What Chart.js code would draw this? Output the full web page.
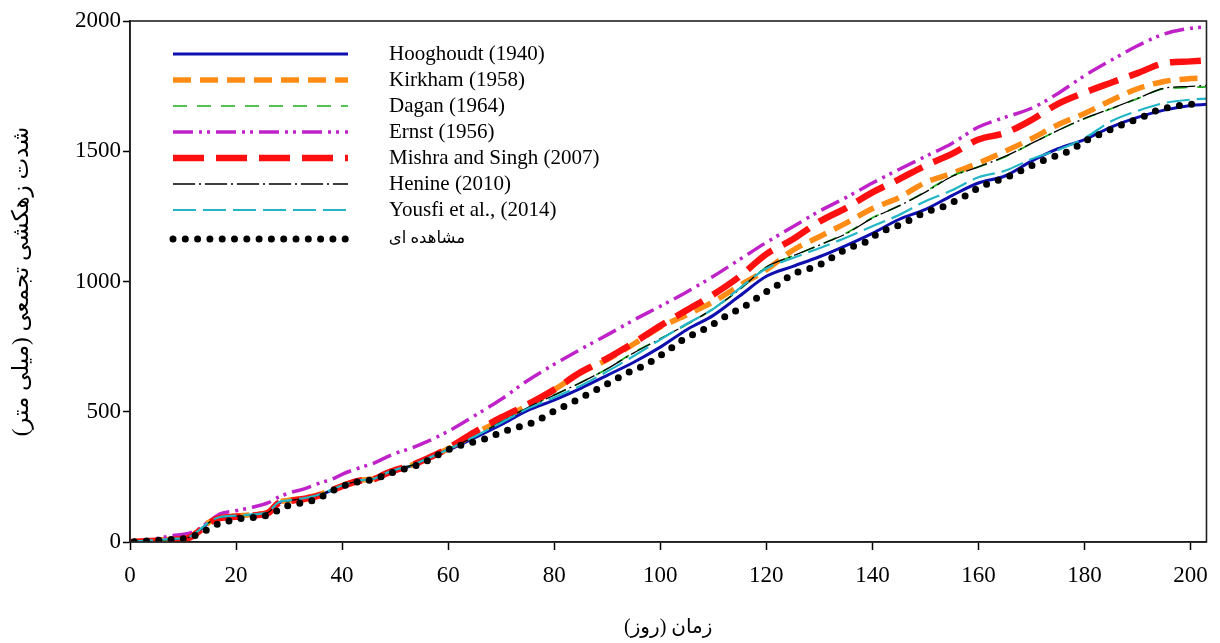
<!DOCTYPE html>
<html>
<head>
<meta charset="utf-8">
<script src="https://cdn.jsdelivr.net/npm/chart.js@4.4.1/dist/chart.umd.min.js"></script>
<style>
  html, body { margin: 0; padding: 0; background: #fff; }
  #canvas-container { width: 1220px; height: 643px; }
</style>
</head>
<body>
<div id="canvas-container"><canvas id="mycanvas" width="1220" height="643"></canvas></div>
<script>
// cumulative drainage (mm) vs time (days)
const seriesNames = [
  "Hooghoudt (1940)",
  "Kirkham (1958)",
  "Dagan (1964)",
  "Ernst (1956)",
  "Mishra and Singh (2007)",
  "Henine (2010)",
  "Yousfi et al., (2014)",
  "مشاهده ای"
];

const modelDays = [0, 4, 8, 11, 13, 15, 17, 20, 23, 26, 28, 30, 33, 36, 38, 40, 43, 46, 48, 50, 53, 56, 60,
  65, 70, 75, 80, 85, 90, 95, 100, 105, 110, 115, 120, 125, 130, 135, 140, 145, 150, 155, 160,
  165, 170, 175, 180, 185, 190, 195, 200, 203];

const hooghoudt = [0, 5, 10, 16, 42, 75, 93, 98, 103, 112, 150, 158, 167, 182, 198, 214, 234, 241, 260, 275, 292, 318, 352,
  400, 450, 505, 545, 590, 640, 690, 748, 815, 870, 945, 1020, 1058, 1095, 1138, 1185, 1238, 1277, 1330, 1378,
  1405, 1462, 1510, 1545, 1593, 1630, 1658, 1676, 1680];
const kirkham = [0, 5, 11, 17, 44, 77, 95, 100, 105, 114, 152, 160, 169, 184, 200, 216, 236, 243, 262, 277, 294, 320, 358,
  415, 470, 525, 585, 650, 700, 760, 825, 872, 922, 985, 1045, 1120, 1172, 1224, 1280, 1322, 1380, 1415, 1455,
  1500, 1548, 1602, 1645, 1695, 1740, 1768, 1779, 1781];
const dagan = [0, 5, 10, 17, 43, 76, 94, 99, 104, 113, 151, 159, 168, 183, 199, 215, 235, 242, 261, 276, 293, 319, 358,
  405, 462, 517, 565, 612, 665, 728, 780, 835, 895, 970, 1055, 1098, 1140, 1185, 1245, 1290, 1345, 1405, 1440,
  1478, 1530, 1580, 1625, 1663, 1702, 1740, 1745, 1747];
const ernst = [0, 10, 24, 33, 50, 80, 108, 120, 133, 150, 172, 188, 205, 228, 240, 260, 283, 303, 322, 340, 360, 385, 425,
  485, 548, 620, 682, 740, 795, 852, 905, 960, 1020, 1085, 1150, 1210, 1270, 1322, 1378, 1430, 1480, 1530, 1593,
  1630, 1665, 1722, 1790, 1849, 1905, 1950, 1972, 1977];
const mishra = [0, 4, 9, 15, 41, 74, 92, 97, 102, 111, 149, 157, 166, 181, 198, 214, 234, 241, 260, 276, 294, 320, 360,
  422, 478, 528, 585, 652, 705, 765, 830, 890, 950, 1020, 1105, 1162, 1230, 1282, 1342, 1392, 1445, 1490, 1545,
  1570, 1620, 1682, 1725, 1763, 1800, 1838, 1845, 1849];
const henine = [0, 5, 10, 17, 43, 76, 94, 99, 104, 113, 151, 159, 168, 183, 199, 215, 235, 242, 261, 276, 293, 319, 357,
  404, 461, 516, 564, 612, 665, 726, 780, 836, 896, 970, 1055, 1098, 1140, 1183, 1243, 1290, 1343, 1403, 1440,
  1480, 1530, 1580, 1626, 1664, 1703, 1742, 1749, 1753];
const yousfi = [0, 6, 12, 18, 45, 78, 96, 101, 106, 115, 152, 160, 169, 184, 201, 217, 236, 243, 262, 277, 294, 320, 355,
  405, 458, 512, 555, 600, 655, 714, 777, 838, 895, 975, 1050, 1090, 1128, 1168, 1212, 1255, 1308, 1350, 1400,
  1425, 1470, 1505, 1550, 1615, 1655, 1685, 1698, 1702];

const obsDays = [0.8, 3.0, 5.2, 7.3, 9.5, 11.6, 13.8, 16.0, 18.1, 20.3, 22.4, 24.6, 26.8, 28.8, 31.0, 33.2, 35.4, 37.5,
  39.6, 41.8, 44.0, 46.2, 48.3, 50.5, 52.7, 54.8, 57.0, 59.1, 61.3, 63.5, 65.6, 67.7, 69.9, 72.0, 74.1, 76.3,
  78.5, 80.6, 82.8, 84.9, 87.1, 89.2, 91.4, 93.5, 95.7, 97.8, 100.0, 102.2, 104.3, 106.5, 108.7, 110.8, 112.9,
  115.1, 117.3, 119.4, 121.5, 123.7, 125.9, 128.1, 130.2, 132.3, 134.5, 136.7, 138.9, 141.0, 143.1, 145.3,
  147.4, 149.6, 151.8, 153.9, 156.0, 158.2, 160.4, 162.6, 164.7, 166.8, 169.0, 171.2, 173.3, 175.5, 177.7,
  179.8, 181.9, 184.1, 186.3, 188.5, 190.6, 192.7, 194.9, 197.0, 199.2, 201.3];
const observed = [1, 4, 6, 9, 11, 20, 39, 64, 78, 88, 93, 97, 109, 133, 145, 153, 166, 190,
  210, 225, 235, 241, 259, 273, 286, 300, 322, 345, 365, 377, 388, 401, 421, 434, 446, 461,
  485, 510, 529, 552, 575, 598, 622, 647, 665, 687, 716, 746, 777, 800, 821, 847, 874,
  895, 923, 954, 978, 1011, 1036, 1049, 1066, 1091, 1118, 1137, 1153, 1184, 1203, 1218,
  1239, 1262, 1278, 1291, 1313, 1336, 1365, 1380, 1396, 1413, 1436, 1455, 1473, 1488, 1507,
  1536, 1556, 1576, 1595, 1613, 1627, 1650, 1663, 1673, 1678, 1682];

const xTicks = [0, 20, 40, 60, 80, 100, 120, 140, 160, 180, 200];
const yTicks = [0, 500, 1000, 1500, 2000];

const xTitle = "\u200Fزمان (روز)\u200F";
const yTitle = "\u200Fشدت زهکشی تجمعی (میلی متر)\u200F";

function pts(xs, ys) {
  return xs.map((x, i) => ({ x: x, y: ys[i] }));
}

const serif = "'Liberation Serif', 'Times New Roman', 'DejaVu Serif', serif";
const persian = "'Liberation Serif', 'DejaVu Sans', serif";

let datasets = [
  { label: seriesNames[0], data: pts(modelDays, hooghoudt), borderColor: "#0f0fb0", borderWidth: 3, borderDash: [], order: 7 },
  { label: seriesNames[1], data: pts(modelDays, kirkham), borderColor: "#ff8c14", borderWidth: 5.5, borderDash: [18, 9], order: 6 },
  { label: seriesNames[2], data: pts(modelDays, dagan), borderColor: "#1eae1e", borderWidth: 1.7, borderDash: [14, 10], order: 5 },
  { label: seriesNames[3], data: pts(modelDays, ernst), borderColor: "#bf22c8", borderWidth: 3.5, borderDash: [20, 6, 3, 5, 3, 6], order: 4 },
  { label: seriesNames[4], data: pts(modelDays, mishra), borderColor: "#ff1010", borderWidth: 6.5, borderDash: [31, 12], order: 3 },
  { label: seriesNames[5], data: pts(modelDays, henine), borderColor: "#000000", borderWidth: 1.3, borderDash: [22, 4, 2, 4], order: 2 },
  { label: seriesNames[6], data: pts(modelDays, yousfi), borderColor: "#22b6c6", borderWidth: 2.2, borderDash: [23, 7], order: 1 },
  { label: seriesNames[7], data: pts(obsDays, observed), borderColor: "#000000", borderWidth: 7, borderDash: [0, 12.3], borderCapStyle: "round", order: 0 }
];
datasets.forEach(d => {
  d.fill = false;
  d.pointRadius = 0;
  d.pointHoverRadius = 0;
  d.cubicInterpolationMode = "monotone";
  d.backgroundColor = d.borderColor;
});

// boxed frame around the plot
const frame = {
  id: "frame",
  afterDatasetsDraw(chart) {
    const a = chart.chartArea;
    const ctx = chart.ctx;
    ctx.save();
    ctx.strokeStyle = "#222";
    ctx.lineWidth = 1.6;
    ctx.strokeRect(a.left, a.top, a.right - a.left, a.bottom - a.top);
    ctx.restore();
  }
};

// legend with long line samples, drawn inside the plot
const lineLegend = {
  id: "lineLegend",
  afterDraw(chart) {
    const ctx = chart.ctx;
    const x0 = 173, x1 = 348, tx = 389;
    const rows = [54, 80, 106, 132, 158, 184, 210, 239];
    chart.data.datasets.forEach((d, i) => {
      const y = rows[i];
      ctx.save();
      ctx.strokeStyle = d.borderColor;
      ctx.lineWidth = d.borderWidth;
      ctx.setLineDash(d.borderDash || []);
      ctx.lineCap = d.borderCapStyle || "butt";
      ctx.beginPath();
      ctx.moveTo(x0, y);
      ctx.lineTo(x1, y);
      ctx.stroke();
      ctx.setLineDash([]);
      ctx.fillStyle = "#000";
      ctx.textBaseline = "middle";
      ctx.textAlign = "left";
      if (i === 7) {
        ctx.font = "16.5px " + persian;
        ctx.direction = "rtl";
        ctx.textAlign = "right";
        ctx.fillText(d.label, tx + 76, y);
      } else {
        ctx.font = "21px " + serif;
        ctx.fillText(d.label, tx, y);
      }
      ctx.restore();
    });
  }
};

let myChart = new Chart(document.getElementById("mycanvas"), {
  type: "line",
  data: { datasets: datasets },
  options: {
    responsive: false,
    animation: false,
    layout: { padding: { left: 0, right: 12, top: 21, bottom: 0 } },
    plugins: {
      legend: { display: false },
      tooltip: { enabled: false }
    },
    scales: {
      x: {
        type: "linear",
        min: 0,
        max: 203,
        afterFit: (scale) => { scale.height = 101; },
        afterBuildTicks: (scale) => { scale.ticks = xTicks.map(v => ({ value: v })); },
        ticks: { color: "#000", font: { family: serif, size: 23 }, padding: 12, maxRotation: 0, autoSkip: false, callback: (v) => String(v) },
        grid: { drawOnChartArea: false, drawTicks: true, tickLength: 8, color: "#000", tickWidth: 1.5 },
        border: { display: true, color: "#000", width: 1.6 },
        title: { display: true, text: xTitle, color: "#000", font: { family: persian, size: 20 }, padding: { top: 0, bottom: 3 } }
      },
      y: {
        type: "linear",
        min: 0,
        max: 2000,
        afterFit: (scale) => { scale.width = 130; },
        afterBuildTicks: (scale) => { scale.ticks = yTicks.map(v => ({ value: v })); },
        ticks: { color: "#000", font: { family: serif, size: 23 }, padding: 2, callback: (v) => String(v) },
        grid: { drawOnChartArea: false, drawTicks: true, tickLength: 7, color: "#000", tickWidth: 1.5 },
        border: { display: true, color: "#000", width: 1.6 },
        title: { display: true, text: yTitle, color: "#000", font: { family: persian, size: 23 }, padding: { top: 8, bottom: 0 } }
      }
    }
  },
  plugins: [frame, lineLegend]
});
</script>
</body>
</html>
